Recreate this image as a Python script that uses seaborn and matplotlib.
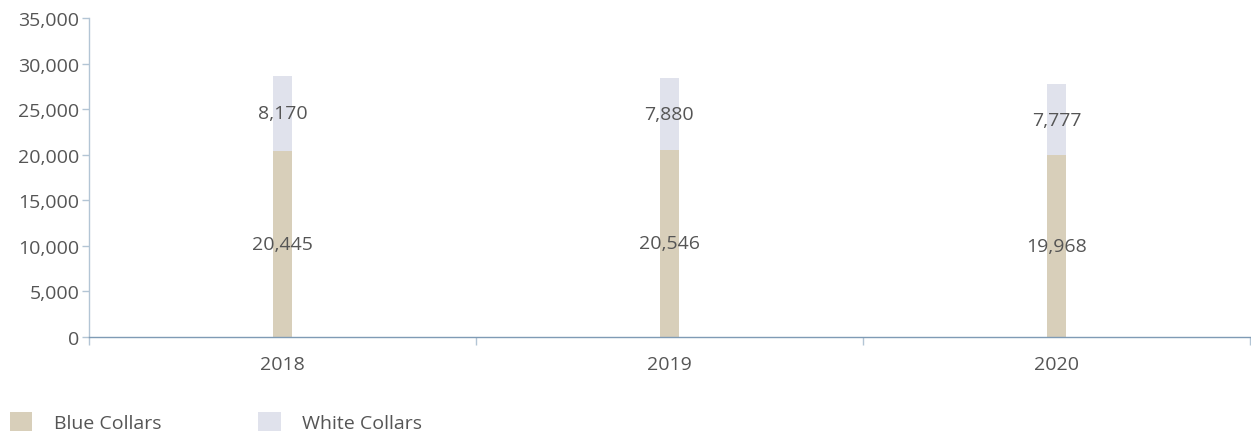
import matplotlib
matplotlib.use("Agg")
import matplotlib.pyplot as plt
import seaborn as sns
import pandas as pd
from matplotlib.patches import Patch
from matplotlib.ticker import FuncFormatter

years = ["2018", "2019", "2020"]
blue_collars = [20445, 20546, 19968]
white_collars = [8170, 7880, 7777]
series_names = ["Blue Collars", "White Collars"]

blue_color = "#d8cfba"
white_color = "#e0e2ec"
text_color = "#555555"
fs = 14

sns.set_theme(style="white")
plt.rcParams["font.family"] = ["Open Sans", "DejaVu Sans"]

df = pd.DataFrame({"year": years, "blue": blue_collars, "white": white_collars})
df["total"] = df["blue"] + df["white"]

fig = plt.figure(figsize=(12.51, 4.39), dpi=100)
ax = fig.add_axes([0.0711, 0.23, 0.928, 0.7267])

bw = 0.05
sns.barplot(data=df, x="year", y="total", color=white_color, width=bw,
            saturation=1, ax=ax, linewidth=0, errorbar=None)
sns.barplot(data=df, x="year", y="blue", color=blue_color, width=bw,
            saturation=1, ax=ax, linewidth=0, errorbar=None)

fmt = lambda v: f"{v:,.0f}"
for i, (b, w) in enumerate(zip(blue_collars, white_collars)):
    ax.text(i, b / 2, fmt(b), ha="center", va="center", fontsize=fs, color=text_color)
    ax.text(i, b + w / 2, fmt(w), ha="center", va="center", fontsize=fs, color=text_color)

ax.set_ylim(0, 35000)
ax.set_yticks(range(0, 35001, 5000))
ax.yaxis.set_major_formatter(FuncFormatter(lambda v, p: fmt(v)))
ax.set_xlim(-0.5, 2.5)
ax.set_xticks([0, 1, 2])
ax.set_xticklabels(years)
ax.set_xticks([-0.5, 0.5, 1.5, 2.5], minor=True)
ax.set_xlabel("")
ax.set_ylabel("")

for side in ("top", "right"):
    ax.spines[side].set_visible(False)
ax.spines["left"].set_color("#b3c5d5")
ax.spines["bottom"].set_color("#7f9bb5")
ax.spines["left"].set_linewidth(1)
ax.spines["bottom"].set_linewidth(1)

ax.tick_params(axis="y", which="major", left=True, length=5, width=1,
               color="#b3c5d5", labelsize=fs, labelcolor=text_color, pad=2)
ax.tick_params(axis="x", which="major", bottom=False, labelsize=fs,
               labelcolor=text_color, pad=7)
ax.tick_params(axis="x", which="minor", bottom=True, length=6, width=1,
               color="#b3c5d5")

handles = [Patch(facecolor=blue_color, edgecolor="none"),
           Patch(facecolor=white_color, edgecolor="none")]
leg = fig.legend(handles, series_names, loc="center left",
                 bbox_to_anchor=(0.0016, 0.036), ncol=2, frameon=False,
                 fontsize=fs, handlelength=1.15, handleheight=1.15,
                 handletextpad=1.1, columnspacing=5.0, borderaxespad=0)
for t in leg.get_texts():
    t.set_color(text_color)

fig.savefig("out.png", dpi=100)
